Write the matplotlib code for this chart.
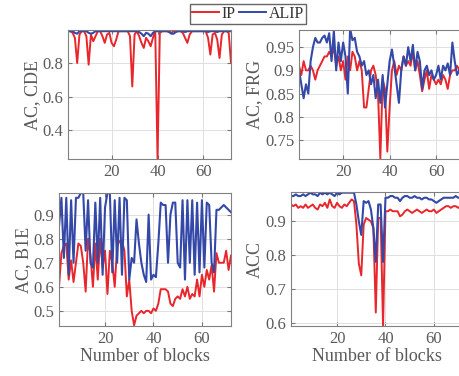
import numpy as np
import matplotlib
matplotlib.use("Agg")
import matplotlib.pyplot as plt
from matplotlib.ticker import FuncFormatter
from matplotlib.lines import Line2D

plt.rcParams['font.family'] = ['Liberation Serif', 'DejaVu Serif']

blocks = np.arange(1, 73)

# AC, CDE
cde_ip = [0.99, 0.99, 0.98, 0.95, 0.80, 0.97, 0.99, 0.99, 0.96, 0.79,
          0.97, 0.93, 0.96, 0.99, 0.99, 0.96, 0.92, 0.97, 0.98, 0.92,
          0.90, 0.94, 0.99, 0.99, 0.99, 0.99, 0.99, 0.96, 0.66, 0.97,
          0.99, 0.96, 0.92, 0.89, 0.95, 0.93, 0.90, 0.95, 0.99, 0.23,
          0.98, 0.99, 0.99, 0.99, 0.99, 0.98, 0.99, 0.99, 0.99, 0.99,
          0.98, 0.95, 0.92, 0.97, 0.99, 0.99, 0.99, 0.99, 0.99, 0.99,
          0.99, 0.95, 0.85, 0.97, 0.98, 0.94, 0.83, 0.97, 0.99, 0.99,
          0.98, 0.80]
cde_alip = [0.99, 0.99, 0.99, 0.98, 0.975, 0.99, 0.99, 0.99, 0.99, 0.98,
            0.975, 0.98, 0.99, 0.99, 0.99, 0.99, 0.99, 0.99, 0.99, 0.99,
            0.99, 0.99, 0.99, 0.99, 0.99, 0.99, 0.99, 0.99, 0.99, 0.99,
            0.99, 0.985, 0.975, 0.96, 0.98, 0.975, 0.96, 0.98, 0.99, 0.99,
            0.99, 0.99, 0.99, 0.99, 0.985, 0.975, 0.975, 0.985, 0.99, 0.99,
            0.99, 0.985, 0.99, 0.99, 0.99, 0.99, 0.99, 0.99, 0.99, 0.99,
            0.99, 0.985, 0.99, 0.99, 0.99, 0.985, 0.99, 0.99, 0.99, 0.99,
            0.99, 0.99]

# AC, FRG
frg_ip = [0.91, 0.89, 0.92, 0.90, 0.90, 0.91, 0.90, 0.88, 0.90, 0.91,
          0.92, 0.93, 0.93, 0.94, 0.93, 0.95, 0.91, 0.93, 0.90, 0.92,
          0.88, 0.93, 0.90, 0.94, 0.93, 0.90, 0.92, 0.90, 0.82, 0.82,
          0.86, 0.90, 0.91, 0.89, 0.85, 0.71, 0.88, 0.86, 0.725, 0.82,
          0.90, 0.92, 0.89, 0.91, 0.90, 0.93, 0.91, 0.92, 0.91, 0.94,
          0.90, 0.92, 0.89, 0.855, 0.88, 0.90, 0.86, 0.89, 0.88, 0.87,
          0.88, 0.87, 0.89, 0.88, 0.86, 0.89, 0.90, 0.90, 0.91, 0.90,
          0.89, 0.90]
frg_alip = [0.90, 0.87, 0.84, 0.87, 0.85, 0.92, 0.95, 0.97, 0.96, 0.96,
            0.97, 0.975, 0.96, 0.98, 0.92, 0.985, 0.90, 0.96, 0.92, 0.96,
            0.93, 0.85, 0.99, 0.965, 0.97, 0.94, 0.93, 0.91, 0.92, 0.89,
            0.90, 0.87, 0.89, 0.84, 0.88, 0.83, 0.89, 0.82, 0.87, 0.92,
            0.945, 0.91, 0.87, 0.83, 0.90, 0.93, 0.91, 0.95, 0.92, 0.955,
            0.90, 0.94, 0.92, 0.86, 0.90, 0.91, 0.89, 0.90, 0.88, 0.89,
            0.91, 0.88, 0.91, 0.90, 0.915, 0.89, 0.96, 0.92, 0.89, 0.90,
            0.91, 0.90]

# AC, B1E
b1e_ip = [0.60, 0.74, 0.77, 0.78, 0.63, 0.71, 0.62, 0.70, 0.78, 0.77,
          0.70, 0.58, 0.80, 0.73, 0.60, 0.78, 0.63, 0.80, 0.68, 0.75,
          0.57, 0.75, 0.70, 0.60, 0.77, 0.79, 0.79, 0.75, 0.56, 0.63,
          0.50, 0.44, 0.48, 0.49, 0.50, 0.49, 0.50, 0.50, 0.49, 0.51,
          0.50, 0.53, 0.59, 0.59, 0.59, 0.58, 0.53, 0.52, 0.55, 0.56,
          0.55, 0.59, 0.56, 0.60, 0.55, 0.57, 0.56, 0.63, 0.56, 0.65,
          0.60, 0.67, 0.63, 0.69, 0.58, 0.74, 0.70, 0.70, 0.70, 0.75,
          0.67, 0.73]
b1e_alip = [0.85, 0.97, 0.72, 0.97, 0.65, 0.96, 0.70, 0.97, 0.97, 0.99,
            0.99, 0.75, 0.96, 0.70, 0.68, 0.95, 0.70, 0.97, 0.65, 0.93,
            0.99, 0.99, 0.66, 0.96, 0.70, 0.97, 0.65, 0.97, 0.96, 0.63,
            0.72, 0.70, 0.88, 0.78, 0.70, 0.65, 0.62, 0.90, 0.63, 0.65,
            0.64, 0.78, 0.95, 0.94, 0.94, 0.70, 0.90, 0.95, 0.95, 0.70,
            0.68, 0.96, 0.63, 0.96, 0.70, 0.96, 0.65, 0.95, 0.66, 0.96,
            0.68, 0.95, 0.94, 0.70, 0.66, 0.92, 0.92, 0.93, 0.94, 0.93,
            0.92, 0.91]

# ACC
acc_ip = [0.95, 0.945, 0.95, 0.94, 0.945, 0.94, 0.95, 0.94, 0.945, 0.95,
          0.94, 0.935, 0.95, 0.945, 0.955, 0.94, 0.965, 0.945, 0.94, 0.955,
          0.945, 0.94, 0.95, 0.945, 0.955, 0.965, 0.96, 0.89, 0.775, 0.74,
          0.89, 0.91, 0.905, 0.90, 0.88, 0.63, 0.91, 0.91, 0.59, 0.93,
          0.93, 0.935, 0.93, 0.93, 0.93, 0.915, 0.92, 0.93, 0.935, 0.93,
          0.925, 0.93, 0.935, 0.93, 0.925, 0.93, 0.935, 0.93, 0.93, 0.935,
          0.925, 0.93, 0.935, 0.94, 0.945, 0.945, 0.94, 0.945, 0.945, 0.94,
          0.945, 0.945]
acc_alip = [0.975, 0.975, 0.98, 0.975, 0.975, 0.98, 0.975, 0.98, 0.985, 0.98,
            0.98, 0.975, 0.985, 0.98, 0.985, 0.98, 0.985, 0.98, 0.975, 0.985,
            0.98, 0.985, 0.985, 0.985, 0.985, 0.985, 0.985, 0.95, 0.90, 0.86,
            0.96, 0.955, 0.96, 0.935, 0.88, 0.78, 0.95, 0.95, 0.78, 0.97,
            0.97, 0.975, 0.975, 0.97, 0.97, 0.96, 0.97, 0.975, 0.975, 0.97,
            0.97, 0.975, 0.97, 0.97, 0.965, 0.97, 0.97, 0.965, 0.965, 0.96,
            0.955, 0.96, 0.965, 0.97, 0.97, 0.97, 0.97, 0.97, 0.975, 0.97,
            0.97, 0.97]

panels = [
    ('AC, CDE', cde_ip, cde_alip, [0.4, 0.6, 0.8], (0.227, 0.997), False,
     [68 / 459, 217 / 376, 163 / 459, 129 / 376]),
    ('AC, FRG', frg_ip, frg_alip, [0.75, 0.8, 0.85, 0.9, 0.95], (0.709, 0.987), False,
     [299 / 459, 217 / 376, 165 / 459, 129 / 376]),
    ('AC, B1E', b1e_ip, b1e_alip, [0.5, 0.6, 0.7, 0.8, 0.9], (0.437, 0.99), True,
     [59 / 459, 50 / 376, 172 / 459, 133 / 376]),
    ('ACC', acc_ip, acc_alip, [0.6, 0.7, 0.8, 0.9], (0.59, 0.987), True,
     [291 / 459, 50 / 376, 172 / 459, 134 / 376]),
]

red = '#e8262b'
blue = '#3448a8'
grey = '#5a5a5a'

fig = plt.figure(figsize=(4.59, 3.76), dpi=100)

for label, ip, alip, yticks, ylim, bottom, pos in panels:
    ax = fig.add_axes(pos)
    ax.plot(blocks, ip, color=red, lw=1.4)
    ax.plot(blocks, alip, color=blue, lw=1.5)
    ax.set_xlim(1, 72)
    ax.set_ylim(*ylim)
    ax.set_xticks([20, 40, 60])
    ax.set_yticks(yticks)
    ax.yaxis.set_major_formatter(FuncFormatter(lambda v, p: '%g' % round(v, 2)))
    ax.grid(True, color='#e0e0e0', lw=0.7)
    ax.set_axisbelow(True)
    ax.tick_params(direction='in', length=3, colors='#777777', labelcolor=grey,
                   labelsize=12, top=True, right=True)
    for s in ax.spines.values():
        s.set_color('#808080')
        s.set_linewidth(0.8)
    ax.set_ylabel(label, fontsize=13, color=grey, labelpad=1)
    if bottom:
        ax.set_xlabel('Number of blocks', fontsize=13, color=grey, labelpad=1)

handles = [Line2D([], [], color=red, lw=1.4), Line2D([], [], color=blue, lw=1.4)]
fig.legend(handles, ['IP', 'ALIP'], loc='center', bbox_to_anchor=(0.54, 0.963),
           ncol=2, fancybox=False, edgecolor='#666666', fontsize=11.5,
           handlelength=1.7, handletextpad=0.15, columnspacing=0.2,
           borderpad=0.15, borderaxespad=0, labelcolor='#333333', framealpha=1)

fig.savefig('out.png', dpi=100)
